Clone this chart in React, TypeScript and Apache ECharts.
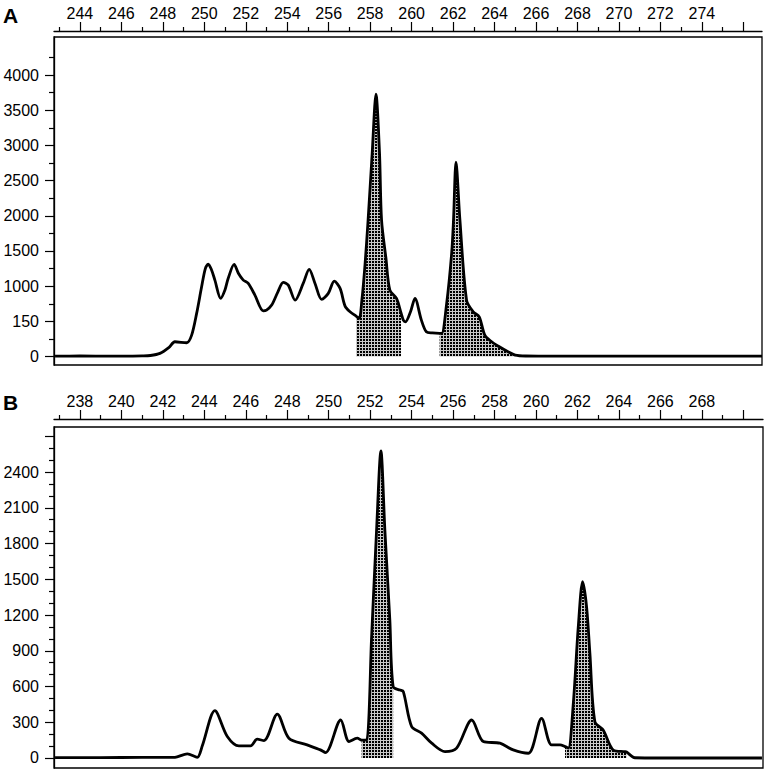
import React, { useEffect, useRef } from "react";
import * as echarts from "echarts";

// ---------- Panel A ----------
const A_X = [242.8, 244, 245.5, 247.0, 247.4, 247.86, 248.3, 248.58, 249.15, 249.39, 249.63, 249.87, 250.05, 250.19, 250.35, 250.51, 250.79, 251.0, 251.15, 251.44, 251.65, 251.88, 252.12, 252.44, 252.84, 253.0, 253.25, 253.55, 253.81, 254.05, 254.38, 254.77, 255.06, 255.34, 255.66, 255.98, 256.27, 256.55, 256.79, 257.03, 257.32, 257.47, 257.6, 257.75, 257.9, 258.1, 258.28, 258.45, 258.55, 258.76, 258.95, 259.27, 259.49, 259.6, 259.7, 259.95, 260.16, 260.47, 260.71, 261.0, 261.35, 261.45, 261.69, 261.93, 262.02, 262.14, 262.33, 262.65, 262.97, 263.26, 263.53, 263.86, 264.17, 264.65, 265.0, 265.5, 267, 270, 273, 276.9];
const A_Y = [5, 8, 5, 10, 15, 45, 130, 210, 196, 305, 613, 991, 1250, 1313, 1230, 1086, 826, 950, 1110, 1309, 1180, 1086, 1039, 873, 650, 660, 731, 920, 1054, 1015, 802, 1039, 1238, 1039, 812, 897, 1072, 968, 717, 636, 575, 542, 800, 1300, 1938, 2900, 3728, 2900, 1938, 1400, 944, 826, 620, 518, 494, 640, 826, 518, 352, 335, 329, 329, 755, 1465, 1938, 2762, 1938, 802, 636, 565, 305, 210, 149, 68, 21, 8, 5, 5, 5, 5];
const A_SHADES = [[257.32, 259.49], [261.35, 265.0]];
const A_X_LABELS = [244, 246, 248, 250, 252, 254, 256, 258, 260, 262, 264, 266, 268, 270, 272, 274];
const A_X_MAJOR = [...A_X_LABELS, 276];
const A_X_MINOR = [243, 245, 247, 249, 251, 253, 255, 257, 259, 261, 263, 265, 267, 269, 271, 273, 275];
const A_Y_VALUES = [0, 500, 1000, 1500, 2000, 2500, 3000, 3500, 4000];
const A_Y_TEXT = ["0", "150", "1000", "1500", "2000", "2500", "3000", "3500", "4000"];
const A_Y_MINOR = [250, 750, 1250, 1750, 2250, 2750, 3250, 3750, 4250];

// ---------- Panel B ----------
const B_X = [236.8, 239, 241, 242.5, 242.69, 243.18, 243.66, 243.9, 244.51, 245.11, 245.67, 246.23, 246.55, 246.88, 247.52, 248.08, 248.96, 249.6, 249.85, 250.58, 250.98, 251.38, 251.59, 251.83, 252.07, 252.31, 252.52, 252.71, 252.95, 253.11, 253.44, 253.6, 254.0, 254.48, 254.97, 255.61, 256.17, 256.9, 257.46, 258.26, 258.9, 259.63, 260.27, 260.75, 261.16, 261.4, 261.56, 261.8, 262.04, 262.25, 262.44, 262.6, 262.84, 263.24, 263.73, 264.29, 264.37, 264.77, 266, 268, 270.9];
const B_Y = [3, 3, 5, 5, 10, 34, 6, 100, 397, 180, 101, 101, 158, 146, 369, 166, 110, 68, 45, 319, 138, 166, 150, 151, 1018, 1913, 2578, 1913, 1158, 598, 570, 557, 264, 209, 124, 53, 82, 319, 138, 124, 68, 40, 333, 110, 110, 95, 82, 459, 1102, 1479, 1269, 878, 305, 235, 67, 53, 50, 2, 0, 0, 0];
const B_SHADES = [[251.59, 253.11], [261.4, 264.37]];
const B_X_LABELS = [238, 240, 242, 244, 246, 248, 250, 252, 254, 256, 258, 260, 262, 264, 266, 268];
const B_X_MAJOR = [...B_X_LABELS, 270];
const B_X_MINOR = [237, 239, 241, 243, 245, 247, 249, 251, 253, 255, 257, 259, 261, 263, 265, 267, 269];
const B_Y_VALUES = [0, 300, 600, 900, 1200, 1500, 1800, 2100, 2400];
const B_Y_MAJOR = [...B_Y_VALUES, 2700];
const B_Y_MINOR = [100, 200, 400, 500, 700, 800, 1000, 1100, 1300, 1400, 1600, 1700, 1900, 2000, 2200, 2300, 2500, 2600];

const FONT = '"Liberation Sans", Arial, Helvetica, sans-serif';

function makePattern() {
  const c = document.createElement("canvas");
  c.width = 3;
  c.height = 3;
  const ctx = c.getContext("2d")!;
  ctx.fillStyle = "#c8c8c8";
  ctx.fillRect(0, 0, 3, 3);
  ctx.fillStyle = "#000";
  ctx.fillRect(0, 0, 2, 2);
  return { image: c.toDataURL(), repeat: "repeat", imageWidth: 3, imageHeight: 3 };
}

export default function App() {
  const ref = useRef<HTMLDivElement>(null);
  useEffect(() => {
    if (!ref.current) return;
    const chart = echarts.init(ref.current, null, { renderer: "svg" });
    const pattern = makePattern();

    const pairs = (xs: number[], ys: number[]) => xs.map((x, i) => [x, ys[i]]);
    const aData = pairs(A_X, A_Y);
    const bData = pairs(B_X, B_Y);

    const xAxisMain = (grid: number, min: number, max: number, offset: number, major: number[], labels: number[]) => ({
      type: "value",
      gridIndex: grid,
      position: "top",
      offset,
      min,
      max,
      splitLine: { show: false },
      axisLine: { show: true, onZero: false, lineStyle: { color: "#000", width: 1.3 } },
      axisTick: { show: true, inside: false, customValues: major, length: 9, lineStyle: { color: "#000", width: 1.2 } },
      axisLabel: { show: true, customValues: labels, margin: 10, color: "#000", fontSize: 16, fontFamily: FONT, formatter: (v: number) => String(v) },
    });
    const xAxisMinor = (grid: number, min: number, max: number, offset: number, minor: number[]) => ({
      type: "value",
      gridIndex: grid,
      position: "top",
      offset,
      min,
      max,
      splitLine: { show: false },
      axisLine: { show: false, onZero: false },
      axisTick: { show: true, inside: false, customValues: minor, length: 4, lineStyle: { color: "#000", width: 1.2 } },
      axisLabel: { show: false },
    });
    const yAxisMain = (grid: number, min: number, max: number, major: number[], values: number[], texts: string[]) => ({
      type: "value",
      gridIndex: grid,
      position: "left",
      min,
      max,
      splitLine: { show: false },
      axisLine: { show: true, onZero: false, lineStyle: { color: "#000", width: 1.3 } },
      axisTick: { show: true, inside: false, customValues: major, length: 9, lineStyle: { color: "#000", width: 1.2 } },
      axisLabel: {
        show: true,
        customValues: values,
        margin: 15,
        color: "#000",
        fontSize: 16,
        fontFamily: FONT,
        formatter: (v: number) => {
          const i = values.indexOf(v);
          return i >= 0 ? texts[i] : "";
        },
      },
    });
    const yAxisMinor = (grid: number, min: number, max: number, minor: number[]) => ({
      type: "value",
      gridIndex: grid,
      position: "left",
      min,
      max,
      splitLine: { show: false },
      axisLine: { show: false, onZero: false },
      axisTick: { show: true, inside: false, customValues: minor, length: 5, lineStyle: { color: "#000", width: 1.2 } },
      axisLabel: { show: false },
    });

    const shadeSeries = (data: number[][], ranges: number[][], xi: number, yi: number) =>
      ranges.map((r) => ({
        type: "line",
        xAxisIndex: xi,
        yAxisIndex: yi,
        data: data.filter((p) => p[0] >= r[0] - 1e-9 && p[0] <= r[1] + 1e-9),
        symbol: "none",
        smooth: 0.3,
        lineStyle: { width: 0, opacity: 0 },
        areaStyle: { color: pattern, opacity: 1 },
        z: 1,
        silent: true,
      }));

    const lineSeries = (data: number[][], xi: number, yi: number) => ({
      type: "line",
      xAxisIndex: xi,
      yAxisIndex: yi,
      data,
      symbol: "none",
      smooth: 0.3,
      lineStyle: { color: "#000", width: 2.8 },
      z: 3,
      silent: true,
    });

    const aMin = 242.75, aMax = 276.9, bMin = 236.75, bMax = 270.95;

    chart.setOption({
      animation: false,
      backgroundColor: "#fff",
      grid: [
        { left: 54, top: 37, width: 708, height: 328, show: true, borderColor: "#000", borderWidth: 1.3, backgroundColor: "transparent" },
        { left: 54, top: 427, width: 709, height: 341, show: true, borderColor: "#000", borderWidth: 1.3, backgroundColor: "transparent" },
      ],
      xAxis: [
        xAxisMain(0, aMin, aMax, 6, A_X_MAJOR, A_X_LABELS),
        xAxisMinor(0, aMin, aMax, 6, A_X_MINOR),
        xAxisMain(1, bMin, bMax, 8, B_X_MAJOR, B_X_LABELS),
        xAxisMinor(1, bMin, bMax, 8, B_X_MINOR),
      ],
      yAxis: [
        yAxisMain(0, -120, 4540, A_Y_VALUES, A_Y_VALUES, A_Y_TEXT),
        yAxisMinor(0, -120, 4540, A_Y_MINOR),
        yAxisMain(1, -84, 2778, B_Y_MAJOR, B_Y_VALUES, B_Y_VALUES.map(String)),
        yAxisMinor(1, -84, 2778, B_Y_MINOR),
      ],
      graphic: [
        { type: "text", left: 3, top: 5, style: { text: "A", font: `bold 21px ${FONT}`, fill: "#000" } },
        { type: "text", left: 3, top: 392, style: { text: "B", font: `bold 21px ${FONT}`, fill: "#000" } },
      ],
      series: [
        ...shadeSeries(aData, A_SHADES, 0, 0),
        lineSeries(aData, 0, 0),
        ...shadeSeries(bData, B_SHADES, 2, 2),
        lineSeries(bData, 2, 2),
      ],
    });
    return () => chart.dispose();
  }, []);
  return <div ref={ref} style={{ position: "absolute", left: 0, top: 0, width: 765, height: 770 }} />;
}
